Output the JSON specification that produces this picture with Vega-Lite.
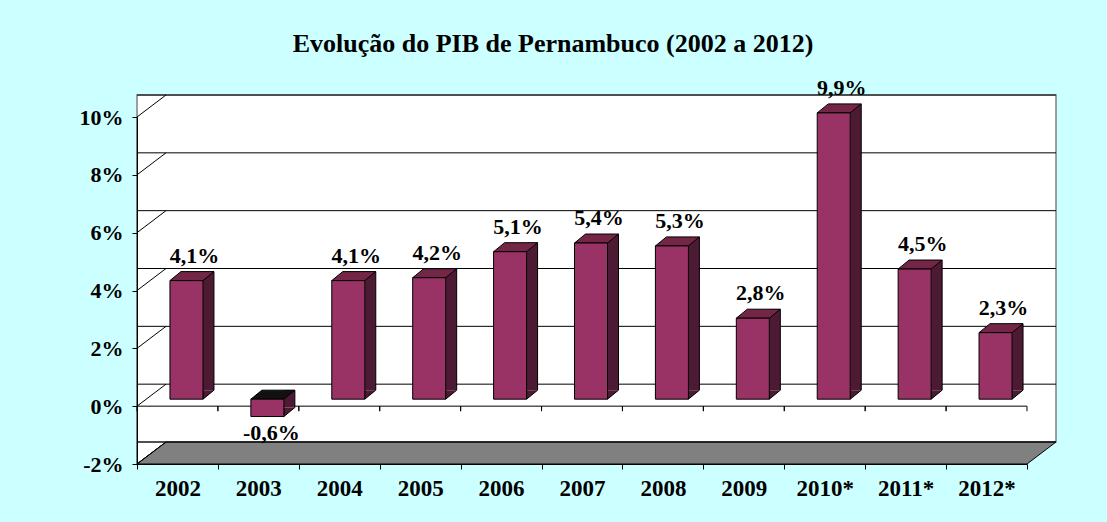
{
  "$schema": "https://vega.github.io/schema/vega-lite/v6.json",
  "width": 890,
  "height": 347,
  "autosize": {"type": "none"},
  "padding": {"left": 137, "top": 117, "right": 80, "bottom": 58},
  "background": "#CCFFFF",
  "config": {"view": {"stroke": null}, "font": "Liberation Serif"},
  "title": {
    "text": "Evolução do PIB de Pernambuco (2002 a 2012)",
    "font": "Liberation Serif",
    "fontSize": 26,
    "fontWeight": "bold",
    "color": "black",
    "anchor": "middle",
    "dx": -29,
    "frame": "group",
    "baseline": "alphabetic",
    "offset": -1
  },
  "resolve": {"axis": {"x": "independent", "y": "independent"}},
  "datasets": {
    "pib": [
      {"ano": "2002", "v": 4.1, "rotulo": "4,1%"},
      {"ano": "2003", "v": -0.6, "rotulo": "-0,6%"},
      {"ano": "2004", "v": 4.1, "rotulo": "4,1%"},
      {"ano": "2005", "v": 4.2, "rotulo": "4,2%"},
      {"ano": "2006", "v": 5.1, "rotulo": "5,1%"},
      {"ano": "2007", "v": 5.4, "rotulo": "5,4%"},
      {"ano": "2008", "v": 5.3, "rotulo": "5,3%"},
      {"ano": "2009", "v": 2.8, "rotulo": "2,8%"},
      {"ano": "2010*", "v": 9.9, "rotulo": "9,9%"},
      {"ano": "2011*", "v": 4.5, "rotulo": "4,5%"},
      {"ano": "2012*", "v": 2.3, "rotulo": "2,3%"}
    ],
    "grade": [{"g": -2}, {"g": 0}, {"g": 2}, {"g": 4}, {"g": 6}, {"g": 8}, {"g": 10}],
    "um": [{"k": 1}]
  },
  "data": {"name": "pib"},
  "layer": [
    {
      "data": {"name": "um"},
      "mark": {"type": "point", "shape": "M-40.45,0L-11.45,-22L-11.45,-369L-40.45,-347Z", "filled": true, "fill": "white", "stroke": "black", "strokeWidth": 1, "size": 4, "opacity": 1},
      "encoding": {
        "x": {"datum": "2002", "type": "nominal", "axis": null},
        "y": {"datum": -2, "type": "quantitative", "axis": null}
      }
    },
    {
      "data": {"name": "um"},
      "mark": {"type": "rect", "fill": "white", "stroke": "#808080", "strokeWidth": 1.5, "xOffset": 29, "x2Offset": 29, "yOffset": -22, "y2Offset": -22},
      "encoding": {
        "y": {"datum": -2, "type": "quantitative", "axis": null},
        "y2": {"datum": 10}
      }
    },
    {
      "data": {"name": "um"},
      "mark": {"type": "point", "shape": "M-40.45,0L849.55,0L878.55,-22L-11.45,-22Z", "filled": true, "fill": "#808080", "stroke": "black", "strokeWidth": 1, "size": 4, "opacity": 1},
      "encoding": {
        "x": {"datum": "2002", "type": "nominal", "axis": null},
        "y": {"datum": -2, "type": "quantitative", "axis": null}
      }
    },
    {
      "data": {"name": "grade"},
      "mark": {"type": "rule", "color": "black", "strokeWidth": 1, "xOffset": 29, "x2Offset": 29, "yOffset": -22},
      "encoding": {
        "y": {"field": "g", "type": "quantitative", "axis": null}
      }
    },
    {
      "data": {"name": "grade"},
      "mark": {"type": "point", "shape": "M-40.45,0L-11.45,-22", "filled": false, "stroke": "black", "strokeWidth": 1, "size": 4, "opacity": 1},
      "encoding": {
        "x": {"datum": "2002", "type": "nominal", "axis": null},
        "y": {"field": "g", "type": "quantitative", "axis": null}
      }
    },
    {
      "data": {"name": "um"},
      "mark": {"type": "rule", "color": "black", "strokeWidth": 1},
      "encoding": {
        "y": {"datum": 0, "type": "quantitative", "axis": null}
      }
    },
    {
      "mark": {"type": "rule", "color": "black", "strokeWidth": 1, "xOffset": -40.45, "y2Offset": 5},
      "encoding": {
        "x": {"field": "ano", "type": "nominal", "sort": null, "axis": null},
        "y": {"datum": 0, "type": "quantitative", "axis": null},
        "y2": {"datum": 0}
      }
    },
    {
      "mark": {"type": "rule", "color": "black", "strokeWidth": 1, "xOffset": 40.45, "y2Offset": 5},
      "encoding": {
        "x": {"field": "ano", "type": "nominal", "sort": null, "axis": null},
        "y": {"datum": 0, "type": "quantitative", "axis": null},
        "y2": {"datum": 0}
      }
    },
    {
      "mark": {"type": "bar", "width": 11, "xOffset": 31, "yOffset": -16, "y2Offset": -16, "fill": "#4D1A33", "strokeWidth": 0},
      "encoding": {
        "x": {"field": "ano", "type": "nominal", "sort": null, "axis": null},
        "y": {"field": "v", "type": "quantitative", "axis": null},
        "y2": {"datum": 0}
      }
    },
    {
      "mark": {"type": "rule", "color": "black", "strokeWidth": 1, "xOffset": 36.5, "yOffset": -16, "y2Offset": -16},
      "encoding": {
        "x": {"field": "ano", "type": "nominal", "sort": null, "axis": null},
        "y": {"field": "v", "type": "quantitative", "axis": null},
        "y2": {"datum": 0}
      }
    },
    {
      "transform": [{"filter": "datum.v >= 0"}],
      "mark": {"type": "point", "shape": "M25.5,-16L25.5,-7L36.5,-16", "filled": true, "fill": "#4D1A33", "stroke": "black", "strokeWidth": 1, "size": 4, "opacity": 1},
      "encoding": {
        "x": {"field": "ano", "type": "nominal", "sort": null, "axis": null},
        "y": {"datum": 0, "type": "quantitative", "axis": null}
      }
    },
    {
      "transform": [{"filter": "datum.v < 0"}],
      "mark": {"type": "point", "shape": "M25.5,-16L25.5,-7L36.5,-16", "filled": true, "fill": "#4D1A33", "stroke": "black", "strokeWidth": 1, "size": 4, "opacity": 1},
      "encoding": {
        "x": {"field": "ano", "type": "nominal", "sort": null, "axis": null},
        "y": {"field": "v", "type": "quantitative", "axis": null}
      }
    },
    {
      "transform": [{"filter": "datum.v >= 0"}],
      "mark": {"type": "point", "shape": "M-7.5,-7L25.5,-7L36.5,-16L3.5,-16Z", "filled": true, "fill": "#732646", "stroke": "black", "strokeWidth": 1, "size": 4, "opacity": 1},
      "encoding": {
        "x": {"field": "ano", "type": "nominal", "sort": null, "axis": null},
        "y": {"field": "v", "type": "quantitative", "axis": null}
      }
    },
    {
      "transform": [{"filter": "datum.v < 0"}],
      "mark": {"type": "point", "shape": "M-7.5,-7L25.5,-7L36.5,-16L3.5,-16Z", "filled": true, "fill": "#111111", "stroke": "black", "strokeWidth": 1, "size": 4, "opacity": 1},
      "encoding": {
        "x": {"field": "ano", "type": "nominal", "sort": null, "axis": null},
        "y": {"datum": 0, "type": "quantitative", "axis": null}
      }
    },
    {
      "mark": {"type": "bar", "width": 33, "xOffset": 9, "yOffset": -7, "y2Offset": -7, "fill": "#993366", "stroke": "black", "strokeWidth": 1},
      "encoding": {
        "x": {
          "field": "ano", "type": "nominal", "sort": null,
          "scale": {"paddingInner": 0, "paddingOuter": 0},
          "axis": {"title": null, "tickBand": "extent", "labelAngle": 0, "domainColor": "black", "tickColor": "black", "tickSize": 5, "labelFont": "Liberation Serif", "labelFontWeight": "bold", "labelFontSize": 23, "labelColor": "black", "labelPadding": 8, "zindex": 1}
        },
        "y": {
          "field": "v", "type": "quantitative",
          "scale": {"domain": [-2, 10], "nice": false, "zero": false},
          "axis": {"title": null, "values": [-2, 0, 2, 4, 6, 8, 10], "labelExpr": "datum.value + '%'", "grid": false, "domainColor": "black", "tickColor": "black", "tickSize": 5, "labelFont": "Liberation Serif", "labelFontWeight": "bold", "labelFontSize": 22, "labelColor": "black", "labelPadding": 9, "zindex": 1}
        },
        "y2": {"datum": 0}
      }
    },
    {
      "transform": [{"filter": "datum.v >= 0"}],
      "mark": {"type": "text", "font": "Liberation Serif", "fontWeight": "bold", "fontSize": 22, "color": "black", "align": "center", "baseline": "alphabetic", "dx": 17, "dy": -25},
      "encoding": {
        "x": {"field": "ano", "type": "nominal", "sort": null, "axis": null},
        "y": {"field": "v", "type": "quantitative", "axis": null},
        "text": {"field": "rotulo"}
      }
    },
    {
      "transform": [{"filter": "datum.v < 0"}],
      "mark": {"type": "text", "font": "Liberation Serif", "fontWeight": "bold", "fontSize": 22, "color": "black", "align": "center", "baseline": "alphabetic", "dx": 13, "dy": 16},
      "encoding": {
        "x": {"field": "ano", "type": "nominal", "sort": null, "axis": null},
        "y": {"field": "v", "type": "quantitative", "axis": null},
        "text": {"field": "rotulo"}
      }
    }
  ]
}
